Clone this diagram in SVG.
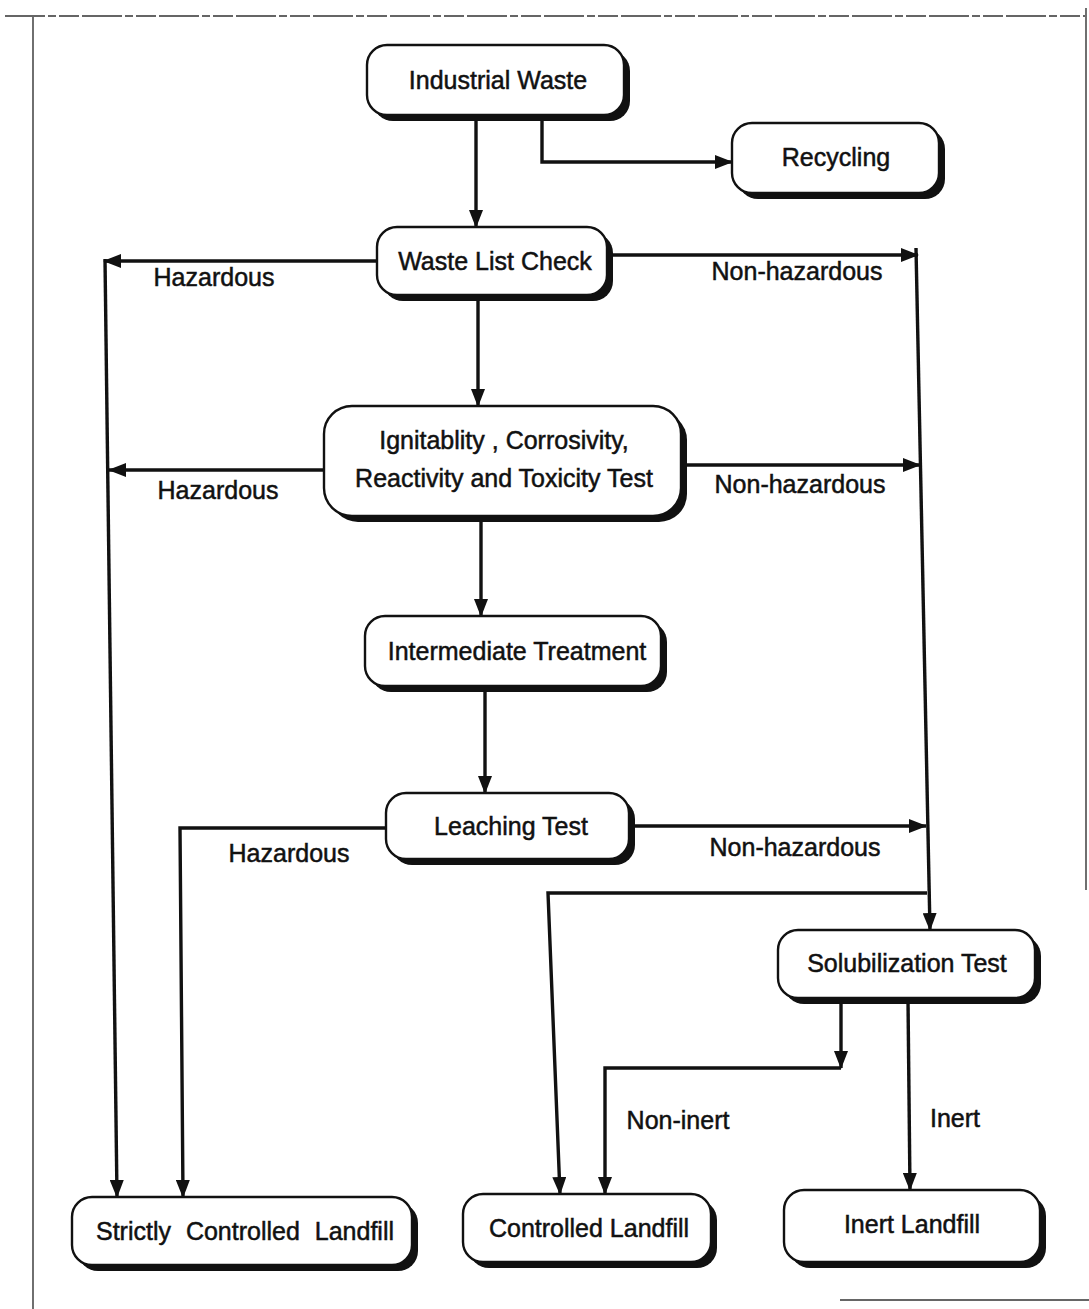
<svg xmlns="http://www.w3.org/2000/svg" width="1089" height="1309" viewBox="0 0 1089 1309">
<style>
.shadow{fill:#111;}
.box{fill:#fff;stroke:#111;stroke-width:2.4;}
.t{font-family:"Liberation Sans",Arial,sans-serif;font-size:25px;fill:#111;stroke:#111;stroke-width:0.5;text-anchor:middle;}
.lbl{font-family:"Liberation Sans",Arial,sans-serif;font-size:25px;fill:#111;stroke:#111;stroke-width:0.5;text-anchor:middle;}
.c{fill:none;stroke:#111;stroke-width:3.4;}
.frame{fill:none;stroke:#333;stroke-width:1.4;}
</style>
<defs>
<marker id="ah" viewBox="0 0 18 14" refX="17" refY="7" markerWidth="18" markerHeight="14" orient="auto" markerUnits="userSpaceOnUse">
<path d="M0,0 L18,7 L0,14 z" fill="#111"/>
</marker>
</defs>
<rect width="1089" height="1309" fill="#fff"/>
<g id="frame">
<path class="frame" d="M5,16 H1085" stroke-dasharray="40 3 8 3 20 3" stroke-width="1.2" stroke="#555"/>
<path class="frame" d="M33,17 V1309"/>
<path class="frame" d="M1086,8 V890"/>
<path class="frame" d="M840,1300 H1089"/>
</g>
<g id="connectors">
<path class="c" d="M476,117 V227" marker-end="url(#ah)"/>
<path class="c" d="M542,117 V162 H732" marker-end="url(#ah)"/>
<path class="c" d="M377,261 H104" marker-end="url(#ah)"/>
<path class="c" d="M105,259 L117,1197" marker-end="url(#ah)"/>
<path class="c" d="M324,470 H109" marker-end="url(#ah)"/>
<path class="c" d="M612,255 H918" marker-end="url(#ah)"/>
<path class="c" d="M686,465 H920" marker-end="url(#ah)"/>
<path class="c" d="M916,248 L930,930" marker-end="url(#ah)"/>
<path class="c" d="M478,298 V406" marker-end="url(#ah)"/>
<path class="c" d="M481,520 V616" marker-end="url(#ah)"/>
<path class="c" d="M485,690 V793" marker-end="url(#ah)"/>
<path class="c" d="M634,826 H926" marker-end="url(#ah)"/>
<path class="c" d="M386,828 H180 L183,1197" marker-end="url(#ah)"/>
<path class="c" d="M927,893 H548 L560,1194" marker-end="url(#ah)"/>
<path class="c" d="M841,1000 V1068" marker-end="url(#ah)"/>
<path class="c" d="M841,1068 H605 V1194" marker-end="url(#ah)"/>
<path class="c" d="M908,1000 L910,1190" marker-end="url(#ah)"/>
</g>
<g id="labels">
<text class="lbl" x="214" y="286">Hazardous</text>
<text class="lbl" x="797" y="280">Non-hazardous</text>
<text class="lbl" x="218" y="499">Hazardous</text>
<text class="lbl" x="800" y="493">Non-hazardous</text>
<text class="lbl" x="289" y="862">Hazardous</text>
<text class="lbl" x="795" y="856">Non-hazardous</text>
<text class="lbl" x="678" y="1129">Non-inert</text>
<text class="lbl" x="955" y="1127">Inert</text>
</g>
<g id="industrial-waste">
<rect class="shadow" x="373" y="51" width="257" height="70" rx="20"/>
<rect class="box" x="367" y="45" width="257" height="70" rx="20"/>
<text class="t" x="498" y="89">Industrial Waste</text>
</g>
<g id="recycling">
<rect class="shadow" x="738" y="129" width="207" height="70" rx="20"/>
<rect class="box" x="732" y="123" width="207" height="70" rx="20"/>
<text class="t" x="836" y="166">Recycling</text>
</g>
<g id="waste-list-check">
<rect class="shadow" x="383" y="233" width="230" height="68" rx="20"/>
<rect class="box" x="377" y="227" width="230" height="68" rx="20"/>
<text class="t" x="495" y="270">Waste List Check</text>
</g>
<g id="icrt-test">
<rect class="shadow" x="330" y="412" width="357" height="110" rx="28"/>
<rect class="box" x="324" y="406" width="357" height="110" rx="28"/>
<text class="t" x="504" y="449">Ignitablity , Corrosivity,</text>
<text class="t" x="504" y="487">Reactivity and Toxicity Test</text>
</g>
<g id="intermediate-treatment">
<rect class="shadow" x="371" y="622" width="296" height="70" rx="20"/>
<rect class="box" x="365" y="616" width="296" height="70" rx="20"/>
<text class="t" x="517" y="660">Intermediate Treatment</text>
</g>
<g id="leaching-test">
<rect class="shadow" x="392" y="799" width="243" height="66" rx="20"/>
<rect class="box" x="386" y="793" width="243" height="66" rx="20"/>
<text class="t" x="511" y="835">Leaching Test</text>
</g>
<g id="solubilization-test">
<rect class="shadow" x="784" y="936" width="257" height="68" rx="20"/>
<rect class="box" x="778" y="930" width="257" height="68" rx="20"/>
<text class="t" x="907" y="972">Solubilization Test</text>
</g>
<g id="strictly-controlled-landfill">
<rect class="shadow" x="78" y="1203" width="340" height="68" rx="20"/>
<rect class="box" x="72" y="1197" width="340" height="68" rx="20"/>
<text class="t" x="245" y="1240" word-spacing="8">Strictly Controlled Landfill</text>
</g>
<g id="controlled-landfill">
<rect class="shadow" x="469" y="1200" width="248" height="68" rx="20"/>
<rect class="box" x="463" y="1194" width="248" height="68" rx="20"/>
<text class="t" x="589" y="1237">Controlled Landfill</text>
</g>
<g id="inert-landfill">
<rect class="shadow" x="790" y="1196" width="256" height="72" rx="20"/>
<rect class="box" x="784" y="1190" width="256" height="72" rx="20"/>
<text class="t" x="912" y="1233">Inert Landfill</text>
</g>
</svg>
